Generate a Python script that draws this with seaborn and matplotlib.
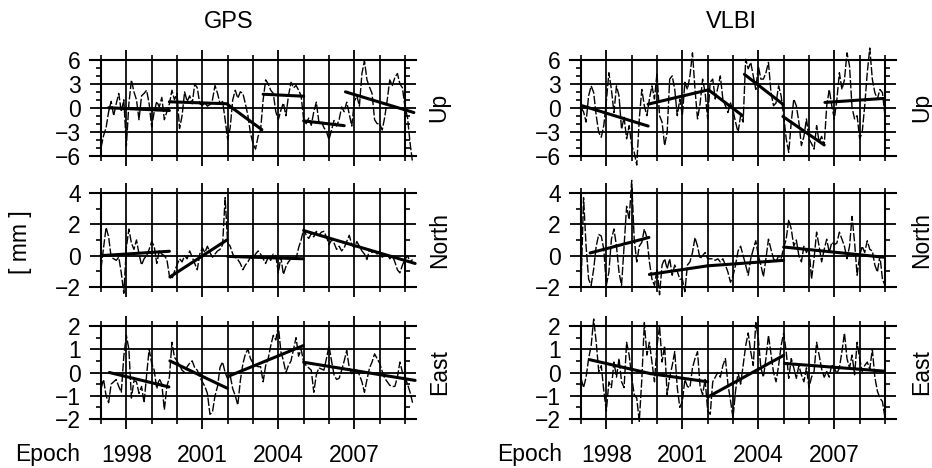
import numpy as np
import pandas as pd
import seaborn as sns
import matplotlib.pyplot as plt
from matplotlib.ticker import MultipleLocator, FixedLocator

sns.set_style('white')
plt.rcParams['font.family'] = ['Liberation Sans', 'DejaVu Sans']
plt.rcParams['text.color'] = 'black'
plt.rcParams['xtick.color'] = 'black'
plt.rcParams['ytick.color'] = 'black'

# epochs (decimal years, ~0.1 yr sampling)
gps_epoch = np.round(np.arange(1997.0, 2009.31, 0.1), 1)
vlbi_epoch = np.round(np.arange(1997.0, 2009.01, 0.1), 1)

# GPS residuals [mm]
gps_up = [-5.0, -3.5, -2.5, -0.5, 0.8, -1.0, 0.5, 1.8, -0.5, 1.0,
          -4.8, 0.5, 3.5, 2.0, 1.0, -1.5, 1.5, 1.8, 2.2, 0.5,
          -2.4, -0.5, 0.8, 0.1, 1.3, -1.5, -0.5, 0.5, 2.2, 1.0,
          1.8, -2.6, -1.0, 2.0, 0.8, 1.5, 0.5, 3.0, 2.5, 0.5,
          0.3, 0.6, 0.2, 0.4, 1.0, 2.8, 1.8, 0.5, 0.8, -1.5,
          -4.0, -2.5, 1.0, 2.2, 1.2, 2.0, 1.8, 0.5, -1.0, -3.2,
          -4.5, -5.2, -3.6, -2.8, 1.0, 3.5, 3.0, 2.2, 1.8, -0.5,
          -1.5, -0.3, 0.6, -1.0, 1.5, 3.2, 2.5, 2.8, 2.2, 1.5,
          -1.5, -2.0, -1.3, -2.2, -0.5, 0.7, -1.8, -1.7, -2.5, -3.0,
          -4.0, -2.8, -1.6, -2.3, -1.5, 0.1, -0.5, 0.7, -0.8, -2.3,
          0.8, 1.5, 0.2, 4.3, 5.9, 3.5, 2.6, 1.8, -1.5, -2.0,
          -2.0, -2.8, -1.2, 1.0, 3.5, 2.8, 3.8, 4.3, 3.0, 2.5,
          0.1, -1.2, -4.4, -6.9]
gps_north = [-0.8, 0.5, 1.8, 1.2, -0.1, -0.2, -0.3, -0.1, -1.1, -2.4,
             0.5, 1.7, 0.8, 0.4, 1.0, 0.1, -0.6, -0.2, 0.0, 0.4,
             0.9, 0.6, -0.5, 0.3, 0.1, 0.0, -0.25, -1.3, -1.5, -1.0,
             -0.6, -0.2, -0.4, 0.0, -0.2, 0.3, -0.1, -0.5, -0.9, 0.1,
             0.5, 0.2, 0.6, 0.2, -0.1, 0.1, 0.3, 0.4, 0.7, 3.7,
             0.8, 0.6, 0.1, -0.1, -0.25, -0.5, -0.9, -0.6, -0.4, -0.1,
             -0.2, 0.1, 0.3, 0.1, -0.2, -0.5, -0.1, -0.3, 0.1, 0.0,
             -1.1, -0.1, -1.2, -0.7, -0.4, -0.2, -0.1, -0.2, 0.5, 1.0,
             1.7, 1.3, 1.1, 1.4, 1.2, 1.55, 1.3, 1.5, 1.55, 1.2,
             0.7, 1.0, 0.8, 0.4, 0.6, 0.3, 0.5, 0.9, 1.3, 0.7,
             0.5, 0.9, 0.6, 0.3, 0.1, -0.25, 0.4, 0.2, 0.3, 0.1,
             0.3, -0.1, 0.0, 0.1, -0.2, 0.0, -0.4, -0.9, -1.1, -0.6,
             -0.25, 0.0, -0.4, -0.25]
gps_east = [-0.7, -0.3, -1.0, -1.3, -0.5, -0.4, -0.3, -0.6, -0.85, 0.7,
            1.6, 1.0, -1.1, -0.35, -0.4, -0.9, -0.6, -1.3, -0.1, 1.0,
            0.4, 0.1, -0.7, -0.27, -0.5, -1.6, -0.6, -0.2, 1.3, 0.65,
            0.5, 0.3, 0.1, 0.0, 0.25, 0.4, 0.5, 0.2, 0.1, -0.2,
            -0.4, -0.6, -0.9, -1.8, -1.7, -1.0, -0.6, 0.23, 0.45, 0.0,
            -0.27, -0.13, -0.7, -1.0, -1.4, -0.35, 0.37, 0.8, 1.0, 0.6,
            0.4, 0.3, 0.25, 0.25, -0.4, 0.3, 0.6, 1.15, 1.6, 1.4,
            2.0, 0.9, 0.5, 0.0, 0.3, 0.5, 1.0, 1.5, 0.7, 1.0,
            0.44, 0.3, 0.2, 0.1, -0.85, -0.1, 0.2, 0.15, 0.1, 0.6,
            1.15, 0.5, -0.1, -0.3, -0.25, 0.1, 0.5, 0.95, 0.2, -0.05,
            0.1, 0.1, -0.1, -0.4, -0.85, -0.3, 0.2, 0.45, 0.8, 0.6,
            0.4, 0.05, -0.25, -0.4, -0.55, -0.6, -0.6, -0.2, 0.45, 0.0,
            -0.2, -0.5, -0.85, -1.3]

# VLBI residuals [mm]
vlbi_up = [0.0, -0.5, -1.8, 1.5, 2.75, 1.9, -1.0, -3.1, -3.7, -2.2,
           0.8, 4.4, 2.3, -0.6, 2.75, 1.5, -2.7, -1.2, -3.9, -2.25,
           -4.75, -5.6, -7.2, -1.4, 2.3, 0.25, -1.0, 1.1, 2.75, 1.1,
           4.4, -1.0, -1.8, -4.75, -3.1, 3.6, 4.0, 2.3, -1.0, 1.1,
           -1.0, 3.2, 2.3, 4.0, 6.9, 2.3, -1.4, 0.5, 3.6, 1.9,
           -1.4, 3.2, 3.6, 1.1, 2.5, 4.0, 1.1, 0.25, -0.6, 0.6,
           -0.3, -1.8, -3.1, -1.0, -1.8, 6.1, 4.9, 5.7, 4.0, 2.3,
           5.25, 3.6, 3.6, 4.4, 5.7, 1.9, 0.25, 0.6, 2.75, 1.5,
           -1.0, -3.9, -5.6, -1.8, 1.1, 0.25, -1.8, -4.75, -3.6, -1.4,
           -3.9, -4.5, -5.2, -2.25, -4.3, -3.6, -4.75, 0.25, 2.3, 0.25,
           -1.4, 1.0, 4.4, 2.3, 3.5, 6.9, 5.25, 0.0, -1.4, -1.0,
           -3.9, -3.1, 0.25, 4.4, 7.5, 3.6, 1.9, 1.1, 2.3, 1.9,
           -1.0]
vlbi_north = [-2.0, 3.7, 0.6, -1.5, -1.9, -0.85, 0.6, 1.35, 1.25, 0.4,
              -1.9, -1.05, 1.05, 1.7, 0.6, -1.05, -1.9, 0.6, 3.15, 2.3,
              4.8, 1.05, -0.4, 0.6, 0.85, 1.7, 1.15, -0.4, -1.5, -1.9,
              -0.85, -2.5, -0.6, -0.2, -0.85, -0.2, -1.25, -0.6, -1.0, -1.5,
              -1.5, -2.3, -0.6, -0.4, 0.2, 1.15, 0.6, -0.2, 0.0, 0.2,
              -0.2, -0.2, -0.2, -0.3, -0.2, -0.4, -0.2, -0.6, -1.05, -1.7,
              -1.3, -0.6, 0.3, 0.6, 0.0, -0.6, -1.25, -0.2, 0.4, 0.95,
              0.0, -0.6, -1.35, -0.2, 1.05, 0.4, -0.2, -0.4, 0.0, -0.2,
              0.5, 1.05, 2.3, 1.7, 0.6, 1.0, 0.0, -0.4, 0.6, 0.2,
              0.5, -1.5, -0.2, 1.5, 0.6, -0.4, 0.4, 1.05, 0.2, 0.85,
              0.7, 0.8, 1.5, 1.05, 0.6, -0.2, 0.6, 2.5, 0.85, -1.25,
              0.0, 0.6, 0.2, 0.95, 0.4, 0.3, -0.6, -1.05, 0.0, -1.5,
              -1.9]
vlbi_east = [-0.25, -0.65, -0.2, 0.6, 1.15, 2.3, 1.3, 0.04, 0.3, -0.8,
             -1.65, -0.4, -0.65, 0.45, -0.2, 0.6, -0.4, -0.65, 1.3, 0.75,
             -0.2, -0.95, -1.1, -2.1, -0.3, 2.15, 0.75, 1.3, 0.45, -0.4,
             1.15, 2.0, 0.45, 1.15, -0.95, -0.2, 0.3, 0.9, -0.65, -1.5,
             -1.25, -0.3, -0.6, -0.65, 0.2, 0.6, 0.9, -0.6, -0.95, -0.3,
             -1.65, -1.8, -0.4, -0.2, 0.0, -0.2, 0.3, 0.6, -0.5, -1.2,
             -1.95, -0.8, 0.0, -0.5, 0.3, 1.15, 1.7, 0.9, 0.3, 2.15,
             1.45, 0.2, -0.2, 0.6, 1.6, 0.8, 0.0, -0.4, 0.3, 1.15,
             1.7, 0.9, -0.25, 0.6, 0.2, -0.25, 0.3, -0.1, -0.4, 0.2,
             -0.65, -0.2, 0.04, 1.3, 0.75, 0.15, -0.2, 0.04, -0.2, 0.35,
             0.2, -0.05, 0.2, 0.9, 1.7, 0.6, 0.2, 0.75, -0.1, 1.3,
             0.6, 0.04, 0.3, 0.45, 0.15, 1.0, -0.2, -0.8, -1.1, -1.25,
             -1.95]

# piecewise linear trends: (start epoch, end epoch, start value, end value)
gps_up_trend = [(1997.3, 1999.7, 0.0, -0.35), (1999.7, 2002.0, 0.75, 0.5),
                (2002.0, 2003.35, 0.4, -2.75), (2003.4, 2005.0, 1.7, 1.45),
                (2005.0, 2006.6, -1.65, -2.25), (2006.65, 2009.35, 2.0, -0.6)]
gps_north_trend = [(1997.0, 1999.7, 0.0, 0.28), (1999.72, 2001.97, -1.36, 1.0),
                   (2002.0, 2004.97, -0.05, -0.2), (2005.0, 2009.4, 1.6, -0.5)]
gps_east_trend = [(1997.33, 1999.68, 0.0, -0.62), (1999.72, 2001.97, 0.5, -0.67),
                  (2002.1, 2004.97, -0.13, 1.15), (2005.0, 2009.4, 0.44, -0.34)]
vlbi_up_trend = [(1997.05, 1999.65, 0.25, -2.3), (1999.65, 2002.03, 0.45, 2.25),
                 (2002.03, 2003.38, 2.25, -1.0), (2003.45, 2004.97, 4.2, 0.45),
                 (2004.97, 2006.6, -1.1, -4.67), (2006.63, 2008.95, 0.67, 1.17)]
vlbi_north_trend = [(1997.36, 1999.68, 0.17, 1.16), (1999.7, 2002.0, -1.2, -0.65),
                    (2002.0, 2005.0, -0.65, -0.3), (2005.0, 2008.95, 0.55, -0.1)]
vlbi_east_trend = [(1997.35, 1999.75, 0.55, -0.05), (1999.75, 2002.0, -0.05, -0.4),
                   (2002.0, 2005.0, -1.06, 0.74), (2005.04, 2008.95, 0.39, 0.06)]

components = ['Up', 'North', 'East']
year_labels = [1998, 2001, 2004, 2007]

series = {
    ('GPS', 'Up'): (gps_epoch, gps_up, gps_up_trend),
    ('GPS', 'North'): (gps_epoch, gps_north, gps_north_trend),
    ('GPS', 'East'): (gps_epoch, gps_east, gps_east_trend),
    ('VLBI', 'Up'): (vlbi_epoch, vlbi_up, vlbi_up_trend),
    ('VLBI', 'North'): (vlbi_epoch, vlbi_north, vlbi_north_trend),
    ('VLBI', 'East'): (vlbi_epoch, vlbi_east, vlbi_east_trend),
}

# layout in figure fractions
col_left = {'GPS': 90 / 932, 'VLBI': 570 / 932}
col_width = 326 / 932
row_box = {'Up': (0.6677, 0.2041), 'North': (0.3868, 0.2009), 'East': (0.1047, 0.1987)}
row_lim = {'Up': (-6, 6), 'North': (-2, 4), 'East': (-2, 2)}
row_step = {'Up': (3, 1), 'North': (2, 1), 'East': (1, 0.5)}
label_x = {'GPS': 1.071, 'VLBI': 1.08}
fs = 16.5

fig = plt.figure(figsize=(9.32, 4.68), dpi=100)

for tech in ['GPS', 'VLBI']:
    for comp in components:
        bottom, height = row_box[comp]
        ax = fig.add_axes([col_left[tech], bottom, col_width, height])
        epoch, vals, trend = series[(tech, comp)]

        df = pd.DataFrame({'epoch': epoch, 'value': vals})
        sns.lineplot(data=df, x='epoch', y='value', ax=ax, color='black',
                     linewidth=1.0, linestyle=(0, (6, 1.5)), errorbar=None,
                     clip_on=False, zorder=3)

        tr = pd.DataFrame([(i, t, v) for i, (t0, t1, v0, v1) in enumerate(trend)
                           for t, v in ((t0, v0), (t1, v1))],
                          columns=['seg', 'epoch', 'value'])
        sns.lineplot(data=tr, x='epoch', y='value', units='seg', estimator=None,
                     ax=ax, color='black', linewidth=2.2, clip_on=False, zorder=4)

        ax.set_xlim(1996.565, 2009.435)
        ax.set_ylim(*row_lim[comp])
        ax.set_xlabel('')
        ax.set_ylabel('')

        ax.spines['left'].set_position(('data', 1997))
        ax.spines['right'].set_position(('data', 2009))
        for sp in ax.spines.values():
            sp.set_visible(True)
            sp.set_color('black')
            sp.set_linewidth(1.5)

        ax.xaxis.set_major_locator(FixedLocator(year_labels))
        ax.xaxis.set_minor_locator(MultipleLocator(1))
        major, minor = row_step[comp]
        ax.yaxis.set_major_locator(MultipleLocator(major))
        ax.yaxis.set_minor_locator(MultipleLocator(minor))

        ax.grid(True, axis='x', which='both', color='black', linewidth=1.25)
        ax.grid(True, axis='y', which='major', color='black', linewidth=1.3)
        ax.set_axisbelow(True)

        ax.tick_params(axis='x', which='major', direction='out', length=7.2, width=1.3,
                       top=True, bottom=True, labelsize=fs, pad=11,
                       labelbottom=(comp == 'East'))
        ax.tick_params(axis='x', which='minor', direction='out', length=3.6, width=1.2,
                       top=True, bottom=True)
        ax.tick_params(axis='y', which='major', length=0, left=True, right=False,
                       labelsize=fs, pad=14.5)
        ax.tick_params(axis='y', which='minor', direction='out', length=3.6, width=1.2,
                       left=True, right=True)

        ax.text(label_x[tech], 0.5, comp, rotation=90, transform=ax.transAxes,
                ha='center', va='center', fontsize=fs)

fig.text(229 / 932, 0.952, 'GPS', ha='center', va='center', fontsize=17)
fig.text(731 / 932, 0.952, 'VLBI', ha='center', va='center', fontsize=17)
fig.text(20 / 932, 1 - 242 / 468, '[ mm ]', rotation=90, ha='center', va='center', fontsize=fs)
fig.text(48 / 932, 1 - 454 / 468, 'Epoch', ha='center', va='center', fontsize=fs)
fig.text(530 / 932, 1 - 454 / 468, 'Epoch', ha='center', va='center', fontsize=fs)

fig.savefig('out.png', dpi=100, facecolor='white')
